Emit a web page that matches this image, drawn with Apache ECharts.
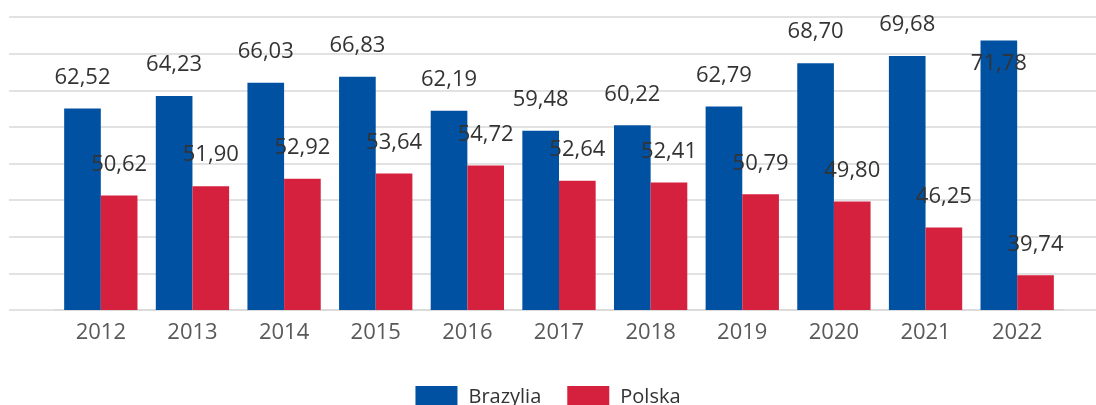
<!DOCTYPE html>
<html>
<head>
<meta charset="utf-8">
<script src="https://cdn.jsdelivr.net/npm/echarts@6/dist/echarts.min.js"></script>
<style>
    html, body { margin: 0; padding: 0; background: #fff; }
    #chart { width: 1096px; height: 405px; }
</style>
</head>
<body>
<div id="chart"></div>
<script>
    // dane
    var years = ['2012', '2013', '2014', '2015', '2016', '2017', '2018', '2019', '2020', '2021', '2022'];
    var brazylia = [62.52, 64.23, 66.03, 66.83, 62.19, 59.48, 60.22, 62.79, 68.70, 69.68, 71.78];
    var polska = [50.62, 51.90, 52.92, 53.64, 54.72, 52.64, 52.41, 50.79, 49.80, 46.25, 39.74];

    var yMin = 35, yMax = 75, yStep = 5;
    var font = '"Open Sans", "Noto Sans", sans-serif';

    // etykieta, ktora nie miesci sie nad slupkiem, idzie do srodka
    function withLabels(arr) {
        return arr.map(function (v) {
            if (v > yMax - 4) {
                return { value: v, label: { position: 'insideTop', distance: 12 } };
            }
            return v;
        });
    }

    var labelStyle = {
        show: true,
        position: 'top',
        distance: 20,
        color: '#333333',
        fontSize: 22,
        lineHeight: 22,
        fontFamily: font,
        formatter: function (p) {
            return p.value.toFixed(2).replace('.', ',');
        }
    };

    var myChart = echarts.init(document.getElementById('chart'));
    var option = {
        animation: false,
        backgroundColor: '#fff',
        textStyle: { fontFamily: font },
        legend: {
            top: 381,
            left: 'center',
            icon: 'rect',
            itemWidth: 42,
            itemHeight: 22,
            itemGap: 26,
            textStyle: { color: '#333333', fontSize: 20, fontFamily: font, padding: [0, 0, 0, 6] },
            data: ['Brazylia', 'Polska']
        },
        grid: [
            { left: 55, right: 33, top: 17, bottom: 95 },
            { left: 9, right: 0, top: 17, bottom: 95 }
        ],
        xAxis: [
            {
                type: 'category',
                gridIndex: 0,
                data: years,
                axisTick: { show: false },
                axisLine: { lineStyle: { color: '#d9d9d9', width: 1.5 } },
                axisLabel: { color: '#595959', fontSize: 22, lineHeight: 22, margin: 12, fontFamily: font }
            },
            {
                type: 'category',
                gridIndex: 1,
                data: [''],
                show: false
            }
        ],
        yAxis: [
            {
                type: 'value',
                gridIndex: 0,
                min: yMin,
                max: yMax,
                interval: yStep,
                axisLabel: { show: false },
                axisLine: { show: false },
                axisTick: { show: false },
                splitLine: { show: false }
            },
            {
                type: 'value',
                gridIndex: 1,
                min: yMin,
                max: yMax,
                interval: yStep,
                axisLabel: { show: false },
                axisLine: { show: false },
                axisTick: { show: false },
                splitLine: { show: true, lineStyle: { color: '#d9d9d9', width: 1.5 } }
            }
        ],
        series: [
            {
                name: 'Brazylia',
                type: 'bar',
                xAxisIndex: 0,
                yAxisIndex: 0,
                barGap: '0%',
                barCategoryGap: '20%',
                itemStyle: { color: '#0051A1' },
                label: labelStyle,
                data: withLabels(brazylia),
                z: 3
            },
            {
                name: 'Polska',
                type: 'bar',
                xAxisIndex: 0,
                yAxisIndex: 0,
                itemStyle: { color: '#D5213E' },
                label: labelStyle,
                data: withLabels(polska),
                z: 3
            }
        ]
    };
    myChart.setOption(option);
</script>
</body>
</html>
